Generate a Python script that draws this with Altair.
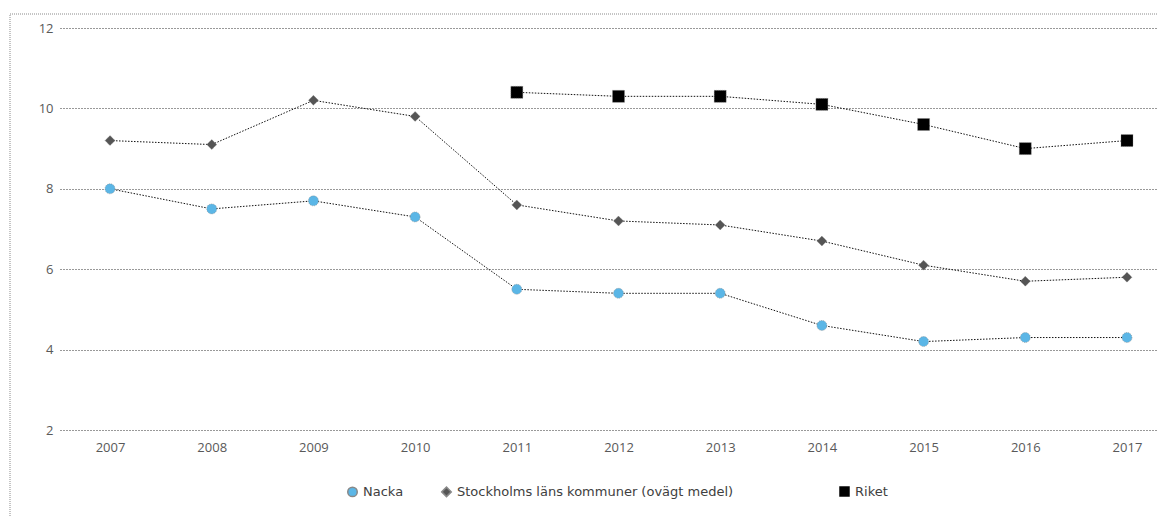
import altair as alt
import pandas as pd

years = list(range(2007, 2018))
nacka = [8.0, 7.5, 7.7, 7.3, 5.5, 5.4, 5.4, 4.6, 4.2, 4.3, 4.3]
stockholm = [9.2, 9.1, 10.2, 9.8, 7.6, 7.2, 7.1, 6.7, 6.1, 5.7, 5.8]
riket = [None, None, None, None, 10.4, 10.3, 10.3, 10.1, 9.6, 9.0, 9.2]
series_names = ["Nacka", "Stockholms läns kommuner (ovägt medel)", "Riket"]
series_colors = ["#5BB6E6", "#555555", "#000000"]
series_shapes = ["circle", "diamond", "square"]
y_ticks = [2, 4, 6, 8, 10, 12]

rows = []
for name, vals in zip(series_names, [nacka, stockholm, riket]):
    for yr, v in zip(years, vals):
        if v is not None:
            rows.append({"year": yr, "value": v, "series": name})
df = pd.DataFrame(rows)

x_enc = alt.X("year:Q", scale=alt.Scale(domain=[2006.508, 2017.305], nice=False, zero=False),
              axis=alt.Axis(values=years, format="d", title=None, grid=False, domain=False,
                            ticks=False, labelPadding=11, labelFontSize=13, labelColor="#595959",
                            labelFont="Open Sans"))
y_enc = alt.Y("value:Q", scale=alt.Scale(domain=[2, 12], nice=False, zero=False),
              axis=alt.Axis(values=y_ticks, title=None, grid=True, gridDash=[1, 2],
                            gridColor="#333333", gridWidth=1, domain=False, ticks=False,
                            labelPadding=7, labelFontSize=13, labelColor="#595959",
                            labelFont="Open Sans"))

base = alt.Chart(df)

lines = base.mark_line(color="#111111", strokeWidth=1, strokeDash=[1.5, 1.5]).encode(
    x=x_enc, y=y_enc, detail="series:N"
)

two = series_names[:2]
points_a = base.transform_filter(
    alt.FieldOneOfPredicate(field="series", oneOf=two)
).mark_point(filled=True, opacity=1, stroke="#888888", strokeWidth=0.6,
             strokeDash=[1, 1]).encode(
    x=x_enc, y=y_enc,
    color=alt.Color("series:N", sort=two,
                    scale=alt.Scale(domain=two, range=series_colors[:2]),
                    legend=alt.Legend(title=None, orient="none", direction="horizontal",
                                      legendX=286, legendY=457, columnPadding=34,
                                      labelFontSize=13, labelColor="#404040",
                                      labelFont="DejaVu Sans", symbolSize=90,
                                      labelLimit=400)),
    shape=alt.Shape("series:N", sort=two,
                    scale=alt.Scale(domain=two, range=series_shapes[:2])),
    size=alt.value(100),
)

points_b = base.transform_filter(
    alt.FieldEqualPredicate(field="series", equal=series_names[2])
).mark_point(filled=True, opacity=1, stroke="#888888", strokeWidth=0.6,
             strokeDash=[1, 1]).encode(
    x=x_enc, y=y_enc,
    fill=alt.Fill("series:N",
                  scale=alt.Scale(domain=[series_names[2]], range=[series_colors[2]]),
                  legend=alt.Legend(title=None, orient="none", direction="horizontal",
                                    legendX=778, legendY=457, symbolType="square",
                                    labelFontSize=13, labelColor="#404040",
                                    labelFont="DejaVu Sans", symbolSize=110,
                                    symbolStrokeWidth=0, labelLimit=400)),
    shape=alt.value("square"),
    size=alt.value(144),
)

frame = alt.Chart(pd.DataFrame({"a": [0]})).mark_rect(
    fill="transparent", stroke="#8a8a8a", strokeWidth=1, strokeDash=[1, 1]
).encode(x=alt.value(-50), x2=alt.value(1300), y=alt.value(-14), y2=alt.value(700))

chart = alt.layer(frame, lines, points_a, points_b).properties(
    width=1098, height=402,
    autosize=alt.AutoSizeParams(type="none"),
    padding={"left": 52, "top": 20, "right": 0, "bottom": 86},
).configure(background="white").configure_view(stroke=None).configure_axisY(
    gridDash=[1, 2], gridColor="#333333"
)

chart.save("out.html", embed_options={"renderer": "svg", "actions": False})
